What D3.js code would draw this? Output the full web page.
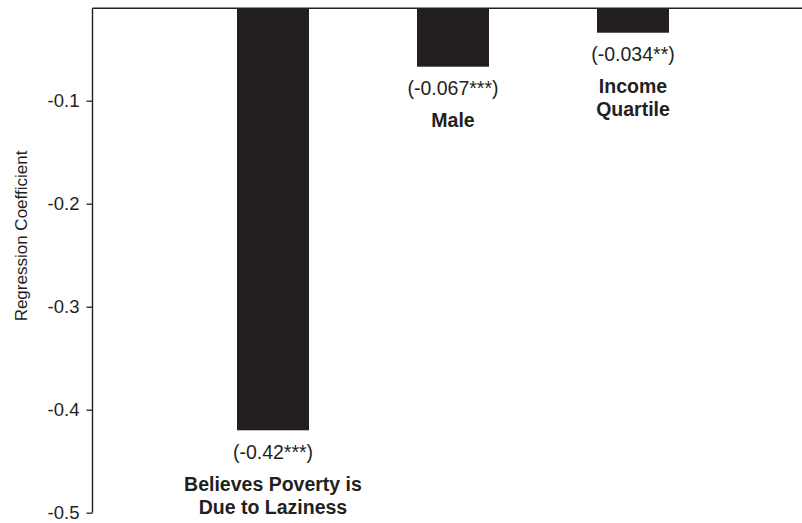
<!DOCTYPE html>
<html>
<head>
<meta charset="utf-8">
<script src="https://cdn.jsdelivr.net/npm/d3@7"></script>
<style>
  html, body { margin: 0; padding: 0; background: #fff; }
  svg { display: block; }
  text { font-family: "Liberation Sans", Arial, Helvetica, sans-serif; fill: #231f20; }
</style>
</head>
<body>
<svg id="chart" width="802" height="523"></svg>
<script>
// Regression coefficients with significance stars
const categories = ["Believes Poverty is Due to Laziness", "Male", "Income Quartile"];
const labelLines = [["Believes Poverty is", "Due to Laziness"], ["Male"], ["Income", "Quartile"]];
const coefficients = [-0.42, -0.067, -0.034];
const stars = ["***", "***", "**"];
const yTicks = [-0.1, -0.2, -0.3, -0.4, -0.5];

const ink = "#231f20";
const svg = d3.select("#chart");

const axisX = 92.5;
const frameTop = 8.3;

const y = d3.scaleLinear().domain([0, -0.5]).range([-2.3, 512.7]);
const x = d3.scaleBand()
  .domain(categories)
  .range([183, 723])
  .paddingInner(0.6)
  .paddingOuter(0.3);

// Frame: top rule and left axis line
svg.append("line")
  .attr("x1", axisX).attr("x2", 802)
  .attr("y1", frameTop).attr("y2", frameTop)
  .attr("stroke", ink).attr("stroke-width", 1.4);

svg.append("line")
  .attr("x1", axisX).attr("x2", axisX)
  .attr("y1", frameTop).attr("y2", y(-0.5))
  .attr("stroke", ink).attr("stroke-width", 1.4);

// Y axis ticks
const yAxis = d3.axisLeft(y)
  .tickValues(yTicks)
  .tickSize(6)
  .tickPadding(7)
  .tickFormat(d => d.toFixed(1));

const gy = svg.append("g")
  .attr("transform", `translate(${axisX},0)`)
  .call(yAxis);
gy.select(".domain").remove();
gy.selectAll(".tick line").attr("stroke", ink).attr("stroke-width", 1.3);
gy.selectAll(".tick text")
  .attr("fill", ink)
  .style("font-family", '"Liberation Sans", Arial, sans-serif')
  .style("font-size", "18.5px");

// Axis title
svg.append("text")
  .attr("transform", "translate(27,236) rotate(-90)")
  .attr("text-anchor", "middle")
  .style("font-size", "17px")
  .text("Regression Coefficient");

// Bars hanging from the top rule
const data = categories.map((c, i) => ({ c, v: coefficients[i], s: stars[i], lines: labelLines[i] }));

svg.selectAll("rect.bar")
  .data(data)
  .join("rect")
  .attr("class", "bar")
  .attr("x", d => x(d.c))
  .attr("width", x.bandwidth())
  .attr("y", frameTop)
  .attr("height", d => y(d.v) - frameTop)
  .attr("fill", ink);

// Value labels
svg.selectAll("text.val")
  .data(data)
  .join("text")
  .attr("class", "val")
  .attr("x", d => x(d.c) + x.bandwidth() / 2)
  .attr("y", d => y(d.v) + 28.5)
  .attr("text-anchor", "middle")
  .style("font-size", "19.5px")
  .text(d => `(${d.v}${d.s})`);

// Category labels
const lab = svg.selectAll("text.cat")
  .data(data)
  .join("text")
  .attr("class", "cat")
  .attr("text-anchor", "middle")
  .style("font-size", "19.5px")
  .style("font-weight", "bold");

lab.each(function(d) {
  const cx = x(d.c) + x.bandwidth() / 2;
  const base = y(d.v) + 28.5 + 32;
  d3.select(this).selectAll("tspan")
    .data(d.lines)
    .join("tspan")
    .attr("x", cx)
    .attr("y", (l, i) => base + i * 23)
    .text(l => l);
});
</script>
</body>
</html>
